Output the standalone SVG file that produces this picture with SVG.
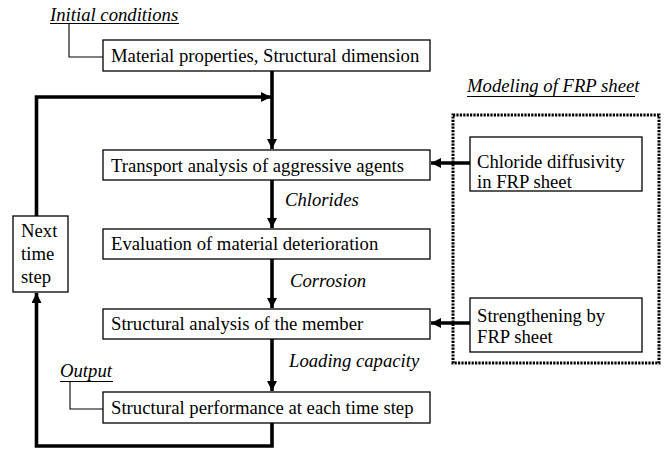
<svg xmlns="http://www.w3.org/2000/svg" width="671" height="452" viewBox="0 0 671 452">
<style>
text{font-family:'Liberation Serif','Times New Roman',Times,'DejaVu Serif',serif;font-size:18.7px;fill:#000}
.it{font-style:italic}
.box{fill:#fff;stroke:#000;stroke-width:1.3}
.thick{fill:none;stroke:#000;stroke-width:3.6}
.thin{fill:none;stroke:#000;stroke-width:1.1}
.dot{fill:none;stroke:#000;stroke-width:3;stroke-dasharray:2.2 1.2}
</style>
<defs>
<marker id="ah" viewBox="0 0 10 10" refX="10" refY="5" markerWidth="10" markerHeight="10" markerUnits="userSpaceOnUse" orient="auto">
<path d="M0,0 L10,5 L0,10 z" fill="#000"/>
</marker>
</defs>
<rect x="0" y="0" width="671" height="452" fill="#fff"/>
<g id="connectors">
<path class="thick" d="M272,71 V149" marker-end="url(#ah)"/>
<path class="thick" d="M36.5,216 V97 H271" marker-end="url(#ah)"/>
<path class="thick" d="M272,180 V228" marker-end="url(#ah)"/>
<path class="thick" d="M272,259 V308" marker-end="url(#ah)"/>
<path class="thick" d="M272,339 V391" marker-end="url(#ah)"/>
<path class="thick" d="M272,423 V446 H36.5 V293" marker-end="url(#ah)"/>
<path class="thick" d="M470,163 H431" marker-end="url(#ah)"/>
<path class="thick" d="M470,323 H431" marker-end="url(#ah)"/>
<path class="thin" d="M69,23.5 V57 H103"/>
<path class="thin" d="M70,381.5 V409 H103"/>
</g>
<g id="label-initial">
<text class="it" x="50" y="21">Initial conditions</text>
<line class="thin" x1="50" y1="23.5" x2="179" y2="23.5"/>
</g>
<g id="label-output">
<text class="it" x="60" y="377">Output</text>
<line class="thin" x1="60" y1="381.5" x2="113" y2="381.5"/>
</g>
<g id="label-modeling">
<text class="it" x="467" y="92">Modeling of FRP sheet</text>
<line class="thin" x1="467" y1="96.5" x2="635" y2="96.5"/>
</g>
<g id="frp-group">
<rect class="dot" x="453" y="115" width="206" height="248"/>
</g>
<g id="n-material">
<rect class="box" x="103" y="40" width="327" height="31"/>
<text x="111" y="62">Material properties, Structural dimension</text>
</g>
<g id="n-transport">
<rect class="box" x="103" y="150" width="327" height="30"/>
<text x="111" y="172">Transport analysis of aggressive agents</text>
</g>
<g id="n-evaluation">
<rect class="box" x="103" y="229" width="327" height="30"/>
<text x="111" y="250">Evaluation of material deterioration</text>
</g>
<g id="n-structural">
<rect class="box" x="103" y="309" width="327" height="30"/>
<text x="111" y="330">Structural analysis of the member</text>
</g>
<g id="n-performance">
<rect class="box" x="103" y="392" width="327" height="31"/>
<text x="111" y="414">Structural performance at each time step</text>
</g>
<g id="n-next">
<rect class="box" x="13" y="216" width="55" height="76"/>
<text x="21" y="237">Next</text>
<text x="21" y="260">time</text>
<text x="21" y="283">step</text>
</g>
<g id="n-chloride">
<rect class="box" x="470" y="137" width="172" height="54"/>
<text x="477" y="168">Chloride diffusivity</text>
<text x="477" y="188">in FRP sheet</text>
</g>
<g id="n-strengthening">
<rect class="box" x="470" y="298" width="172" height="54"/>
<text x="477" y="322">Strengthening by</text>
<text x="477" y="343">FRP sheet</text>
</g>
<g id="edge-labels">
<text class="it" x="285" y="206">Chlorides</text>
<text class="it" x="290" y="287">Corrosion</text>
<text class="it" x="289" y="367">Loading capacity</text>
</g>
</svg>
